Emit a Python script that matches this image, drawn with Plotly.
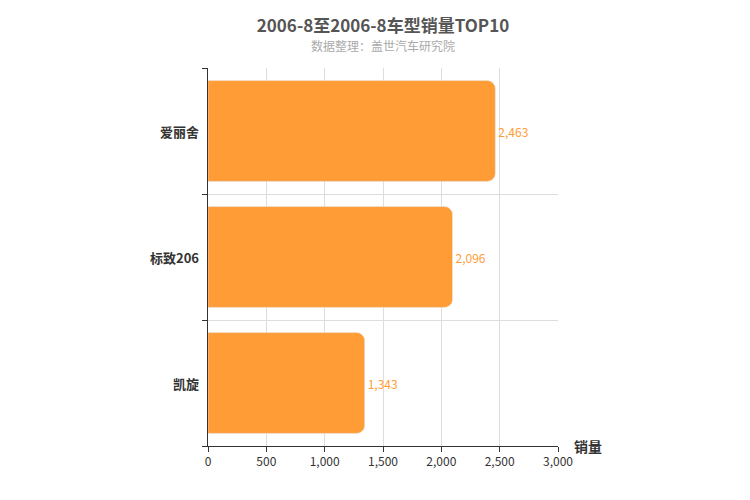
import plotly.graph_objects as go

categories = ["凯旋", "标致206", "爱丽舍"]
sales = [1343, 2096, 2463]
x_ticks = [0, 500, 1000, 1500, 2000, 2500, 3000]

color = "#FF9C35"
fig = go.Figure()
fig.add_trace(go.Bar(
    y=list(range(len(categories))), x=sales, orientation="h",
    marker=dict(color=color, cornerradius=8), width=0.8,
    text=[f"{v:,}" for v in sales], textposition="outside",
    textfont=dict(color=color, size=12), cliponaxis=False,
))
fig.update_layout(
    width=750, height=500, plot_bgcolor="white", paper_bgcolor="white",
    margin=dict(l=200, r=200, t=60, b=62), showlegend=False,
    font=dict(family="Noto Sans CJK SC, sans-serif", color="#333"),
    title=dict(text="<b>2006-8至2006-8车型销量TOP10</b>", x=0.5, xanchor="center",
               y=0.975, yanchor="top", font=dict(size=17, color="#555")),
    xaxis=dict(range=[0, 3000], tickvals=x_ticks, tickformat=",", showgrid=True,
               gridcolor="#ddd", showline=True, linecolor="#333", ticks="outside",
               ticklen=5, tickcolor="#333", tickfont=dict(size=12, color="#333"), zeroline=False),
    yaxis=dict(range=[-0.5, 2.5], tickvals=[-0.5, 0.5, 1.5, 2.5], ticktext=["", "", "", ""],
               showgrid=True, gridcolor="#ddd", showline=True, linecolor="#333",
               ticks="outside", ticklen=5, tickcolor="#333", zeroline=False),
)
fig.add_annotation(text="数据整理：盖世汽车研究院", xref="paper", yref="paper", x=0.5, y=1.06,
                   yanchor="middle", showarrow=False, font=dict(size=12, color="#aaa"))
fig.add_annotation(text="<b>销量</b>", xref="paper", yref="paper", x=1.04, y=0, xanchor="left",
                   yanchor="middle", showarrow=False, font=dict(size=14, color="#333"))
for i, c in enumerate(categories):
    fig.add_annotation(text=f"<b>{c}</b>", xref="paper", yref="y", x=-0.02, y=i,
                       xanchor="right", showarrow=False, font=dict(size=13, color="#333"))
fig.write_html("out.html")
